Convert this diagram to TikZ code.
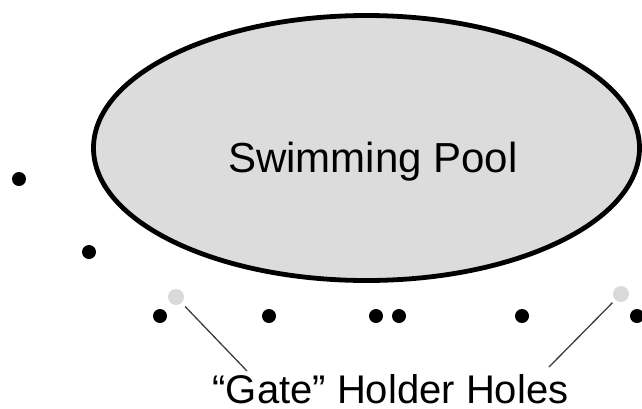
\documentclass[tikz,border=0pt]{standalone}
\usepackage{fontspec}
\setmainfont{Liberation Sans}
\definecolor{poolgray}{RGB}{220,220,220}
\definecolor{holegray}{RGB}{218,218,218}
\definecolor{linegray}{RGB}{60,60,60}
\begin{document}
\begin{tikzpicture}[x=1pt,y=-1pt,
  post/.style={circle,fill=black,inner sep=0pt,minimum size=14pt},
  hole/.style={circle,fill=holegray,inner sep=0pt,minimum size=16pt},
  pointer/.style={draw=linegray,line width=1.3pt},
  bigtext/.style={inner sep=0pt,font=\fontsize{42}{50}\selectfont},
  labeltext/.style={inner sep=0pt,text depth=0pt,font=\fontsize{40}{48}\selectfont}]
\useasboundingbox (0,0) rectangle (642,408);
\draw[fill=poolgray,line width=4.8pt] (366.5,148) ellipse [x radius=273, y radius=132.5];
\node[bigtext,anchor=base] (pool) at (373,172) {Swimming Pool};
\node[post] (p1) at (19,179) {};
\node[post] (p2) at (89,252) {};
\node[post] (p3) at (160,316) {};
\node[post] (p4) at (269,316) {};
\node[post] (p5) at (376,316) {};
\node[post] (p6) at (399,316) {};
\node[post] (p7) at (522,316) {};
\node[post] (p8) at (637,316) {};
\node[hole] (h1) at (176,297) {};
\node[hole] (h2) at (621,294) {};
\node[labeltext,anchor=base] (gate) at (390.5,403) {“Gate” Holder Holes};
\coordinate (e1) at (247,371);
\coordinate (e2) at (549,367);
\draw[pointer,shorten <=5pt] (h1) -- (e1);
\draw[pointer,shorten <=4pt] (h2) -- (e2);
\end{tikzpicture}
\end{document}
